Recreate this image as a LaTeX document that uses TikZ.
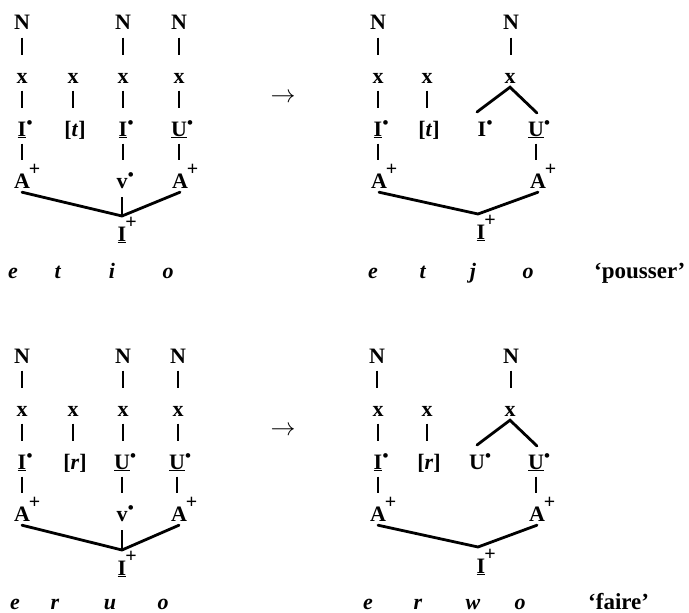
\documentclass[tikz,border=0pt]{standalone}
\usepackage{fontspec}
\setmainfont{Liberation Serif}
\usetikzlibrary{calc}
\newcommand\dotsup{\rlap{\kern0.3pt\raisebox{8pt}{\fontsize{17}{17}\selectfont •}}}
\newcommand\plussup{\rlap{\kern-1pt\raisebox{13pt}{\fontsize{20}{20}\selectfont\bfseries +}}}
\newcommand\phon[1]{\textbf{\textit{#1}}}
\begin{document}
\begin{tikzpicture}[x=1pt,y=-1pt,
  lab/.style={inner sep=0pt,text height=15pt,text depth=4pt,anchor=base,font=\fontsize{22}{26}\selectfont\bfseries},
  ph/.style={inner sep=0pt,anchor=base,font=\fontsize{22}{26}\selectfont},
  gl/.style={inner sep=0pt,anchor=base west,font=\fontsize{23}{26}\selectfont\bfseries},
  bar/.style={line width=1.6pt,shorten <=3.5pt,shorten >=12.5pt},
  vbar/.style={line width=1.6pt,shorten <=5pt,shorten >=1pt},
  assoc/.style={line width=2.8pt,line cap=round},
  arr/.style={inner sep=0pt,font=\fontsize{24}{26}\selectfont}]
\useasboundingbox (0,0) rectangle (689,613);
\fill[white] (0,0) rectangle (689,613);

% ---------- top left ----------
\node[lab] (a1N) at (22,30) {N};
\node[lab] (a3N) at (123,30) {N};
\node[lab] (a4N) at (179,30) {N};
\node[lab] (a1x) at (22,83) {x};
\node[lab] (a2x) at (73,83) {x};
\node[lab] (a3x) at (123,83) {x};
\node[lab] (a4x) at (179,83) {x};
\node[lab] (a1I) at (22,136) {\underline{I}\dotsup};
\node[lab] (a2t) at (75,136) {[\textit{t}]};
\node[lab] (a3I) at (123,136) {\underline{I}\dotsup};
\node[lab] (a4U) at (179,136) {\underline{U}\dotsup};
\node[lab] (a1A) at (22,188) {A\plussup};
\node[lab] (a3v) at (122,188) {v\dotsup};
\node[lab] (a4A) at (180,188) {A\plussup};
\coordinate (aj) at (122,216);
\node[lab] (aIp) at (122,241) {\underline{I}\plussup};
\draw[bar] (a1N) -- (a1N |- a1x.north);
\draw[bar] (a3N) -- (a3N |- a3x.north);
\draw[bar] (a4N) -- (a4N |- a4x.north);
\draw[bar] (a1x) -- (a1x |- a1I.north);
\draw[bar] (a2x) -- (a2x |- a2t.north);
\draw[bar] (a3x) -- (a3x |- a3I.north);
\draw[bar] (a4x) -- (a4x |- a4U.north);
\draw[bar] (a1I) -- (a1I |- a1A.north);
\draw[bar] (a3I) -- (a3I |- a3v.north);
\draw[bar] (a4U) -- (a4U |- a4A.north);
\draw[vbar] (a3v) -- (aj);
\draw[assoc] (a1A.south) -- (aj) -- (a4A.south);
\node[ph] (ae) at (13,278) {\phon{e}};
\node[ph] (at) at (58,278) {\phon{t}};
\node[ph] (ai) at (112,278) {\phon{i}};
\node[ph] (ao) at (168,278) {\phon{o}};

\node[arr] (arrA) at (283,98) {$\rightarrow$};

% ---------- top right ----------
\node[lab] (b1N) at (378,30) {N};
\node[lab] (b3N) at (511,30) {N};
\node[lab] (b1x) at (378,83) {x};
\node[lab] (b2x) at (427,83) {x};
\node[lab] (b3x) at (510,83) {x};
\node[lab] (b1I) at (378,136) {\underline{I}\dotsup};
\node[lab] (b2t) at (429,136) {[\textit{t}]};
\node[lab] (b3I) at (482,136) {I\dotsup};
\node[lab] (b4U) at (536,136) {\underline{U}\dotsup};
\node[lab] (b1A) at (379,188) {A\plussup};
\node[lab] (b4A) at (538,188) {A\plussup};
\coordinate (bj) at (478,214);
\coordinate (bbl) at (477,112);
\coordinate (bbr) at (537,113);
\node[lab] (bIp) at (481,239) {\underline{I}\plussup};
\draw[bar] (b1N) -- (b1N |- b1x.north);
\draw[bar] (b3N) -- (b3N |- b3x.north);
\draw[bar] (b1x) -- (b1x |- b1I.north);
\draw[bar] (b2x) -- (b2x |- b2t.north);
\draw[bar] (b1I) -- (b1I |- b1A.north);
\draw[bar] (b4U) -- (b4U |- b4A.north);
\draw[assoc] (bbl) -- (b3x.south) -- (bbr);
\draw[assoc] (b1A.south) -- (bj) -- (b4A.south);
\node[ph] (be) at (373,278) {\phon{e}};
\node[ph] (bt) at (423,278) {\phon{t}};
\node[ph] (bjj) at (473,278) {\phon{j}};
\node[ph] (bo) at (528,278) {\phon{o}};
\node[gl] (bgl) at (594,278) {‘pousser’};

% ---------- bottom left ----------
\node[lab] (c1N) at (22,363) {N};
\node[lab] (c3N) at (123,363) {N};
\node[lab] (c4N) at (178,363) {N};
\node[lab] (c1x) at (22,416) {x};
\node[lab] (c2x) at (73,416) {x};
\node[lab] (c3x) at (123,416) {x};
\node[lab] (c4x) at (178,416) {x};
\node[lab] (c1I) at (22,469) {\underline{I}\dotsup};
\node[lab] (c2r) at (75,469) {[\textit{r}]};
\node[lab] (c3U) at (122,469) {\underline{U}\dotsup};
\node[lab] (c4U) at (177,469) {\underline{U}\dotsup};
\node[lab] (c1A) at (22,521) {A\plussup};
\node[lab] (c3v) at (122,521) {v\dotsup};
\node[lab] (c4A) at (179,521) {A\plussup};
\coordinate (cj) at (122,550);
\node[lab] (cIp) at (122,575) {\underline{I}\plussup};
\draw[bar] (c1N) -- (c1N |- c1x.north);
\draw[bar] (c3N) -- (c3N |- c3x.north);
\draw[bar] (c4N) -- (c4N |- c4x.north);
\draw[bar] (c1x) -- (c1x |- c1I.north);
\draw[bar] (c2x) -- (c2x |- c2r.north);
\draw[bar] (c3x) -- (c3x |- c3U.north);
\draw[bar] (c4x) -- (c4x |- c4U.north);
\draw[bar] (c1I) -- (c1I |- c1A.north);
\draw[bar] (c3U) -- (c3U |- c3v.north);
\draw[bar] (c4U) -- (c4U |- c4A.north);
\draw[vbar] (c3v) -- (cj);
\draw[assoc] (c1A.south) -- (cj) -- (c4A.south);
\node[ph] (ce) at (15,609) {\phon{e}};
\node[ph] (cr) at (55,609) {\phon{r}};
\node[ph] (cu) at (110,609) {\phon{u}};
\node[ph] (co) at (163,609) {\phon{o}};

\node[arr] (arrB) at (283,431) {$\rightarrow$};

% ---------- bottom right ----------
\node[lab] (d1N) at (377,363) {N};
\node[lab] (d3N) at (511,363) {N};
\node[lab] (d1x) at (378,416) {x};
\node[lab] (d2x) at (427,416) {x};
\node[lab] (d3x) at (510,416) {x};
\node[lab] (d1I) at (378,469) {\underline{I}\dotsup};
\node[lab] (d2r) at (429,469) {[\textit{r}]};
\node[lab] (d3U) at (477,469) {U\dotsup};
\node[lab] (d4U) at (536,469) {\underline{U}\dotsup};
\node[lab] (d1A) at (378,521) {A\plussup};
\node[lab] (d4A) at (537,521) {A\plussup};
\coordinate (dj) at (478,547);
\coordinate (dbl) at (477,445);
\coordinate (dbr) at (537,446);
\node[lab] (dIp) at (481,573) {\underline{I}\plussup};
\draw[bar] (d1N) -- (d1N |- d1x.north);
\draw[bar] (d3N) -- (d3N |- d3x.north);
\draw[bar] (d1x) -- (d1x |- d1I.north);
\draw[bar] (d2x) -- (d2x |- d2r.north);
\draw[bar] (d1I) -- (d1I |- d1A.north);
\draw[bar] (d4U) -- (d4U |- d4A.north);
\draw[assoc] (dbl) -- (d3x.south) -- (dbr);
\draw[assoc] (d1A.south) -- (dj) -- (d4A.south);
\node[ph] (de) at (368,609) {\phon{e}};
\node[ph] (dr) at (418,609) {\phon{r}};
\node[ph] (dw) at (473,609) {\phon{w}};
\node[ph] (do) at (520,609) {\phon{o}};
\node[gl] (dgl) at (588,609) {‘faire’};
\end{tikzpicture}
\end{document}
